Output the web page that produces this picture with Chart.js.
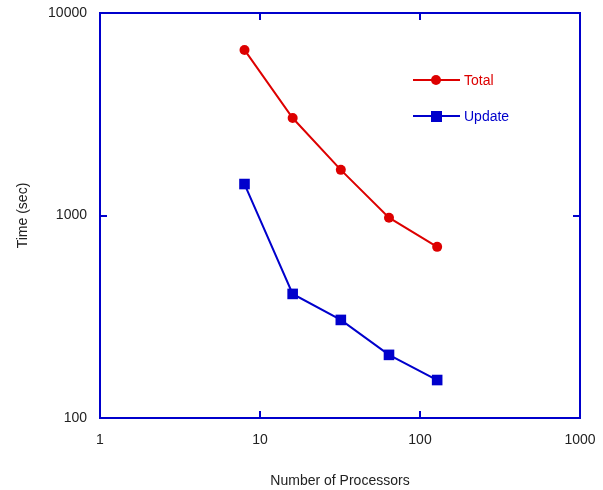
<!DOCTYPE html>
<meta charset="utf-8">
<style>
html, body { margin: 0; background: #fff; }
#wrap { width: 603px; height: 490px; position: relative; }
</style>
<body>
<div id="wrap"><canvas id="chart"></canvas></div>
<script src="https://cdn.jsdelivr.net/npm/chart.js@4/dist/chart.umd.min.js"></script>
<script>
"use strict";

var processors = [8, 16, 32, 64, 128];
var totalTime = [6570, 3030, 1680, 975, 700];
var updateTime = [1430, 410, 305, 205, 154];
var xTicks = [1, 10, 100, 1000];
var yTicks = [100, 1000, 10000];

var RED = "#dd0000", BLUE = "#0000cc";
var FONT = { family: "'Liberation Sans', Arial, sans-serif", size: 14 };

function pts(ys) {
  return processors.map(function (x, i) { return { x: x, y: ys[i] }; });
}

// box frame, inward ticks and in-plot legend
var framePlugin = {
  id: "frame",
  afterDatasetsDraw: function (chart) {
    var ctx = chart.ctx, a = chart.chartArea;
    var sx = chart.scales.x, sy = chart.scales.y;
    ctx.save();
    ctx.strokeStyle = BLUE;
    ctx.lineWidth = 2;
    ctx.strokeRect(a.left, a.top, a.right - a.left, a.bottom - a.top);
    ctx.beginPath();
    xTicks.forEach(function (v) {
      var px = Math.round(sx.getPixelForValue(v));
      ctx.moveTo(px, a.bottom); ctx.lineTo(px, a.bottom - 7);
      ctx.moveTo(px, a.top); ctx.lineTo(px, a.top + 7);
    });
    yTicks.forEach(function (v) {
      var py = Math.round(sy.getPixelForValue(v));
      ctx.moveTo(a.left, py); ctx.lineTo(a.left + 7, py);
      ctx.moveTo(a.right, py); ctx.lineTo(a.right - 7, py);
    });
    ctx.stroke();

    // legend
    ctx.font = FONT.size + "px " + FONT.family;
    ctx.textBaseline = "middle";
    chart.data.datasets.forEach(function (ds, i) {
      var y = a.top + 67 + i * 36, x0 = a.left + 313;
      ctx.strokeStyle = ds.borderColor;
      ctx.fillStyle = ds.borderColor;
      ctx.lineWidth = 2;
      ctx.beginPath();
      ctx.moveTo(x0, y); ctx.lineTo(x0 + 47, y);
      ctx.stroke();
      if (ds.pointStyle === "rect") {
        ctx.fillRect(x0 + 18, y - 5, 11, 11);
      } else {
        ctx.beginPath();
        ctx.arc(x0 + 23, y, 5, 0, Math.PI * 2);
        ctx.fill();
      }
      ctx.fillText(ds.label, x0 + 51, y + 1);
    });
    ctx.restore();
  }
};

new Chart(document.getElementById("chart"), {
  type: "line",
  data: {
    datasets: [
      {
        label: "Total",
        data: pts(totalTime),
        borderColor: RED,
        backgroundColor: RED,
        borderWidth: 2,
        pointStyle: "circle",
        pointRadius: 5,
        pointBorderWidth: 0,
        tension: 0
      },
      {
        label: "Update",
        data: pts(updateTime),
        borderColor: BLUE,
        backgroundColor: BLUE,
        borderWidth: 2,
        pointStyle: "rect",
        pointRadius: 7.5,
        pointBorderWidth: 0,
        tension: 0
      }
    ]
  },
  options: {
    responsive: true,
    maintainAspectRatio: false,
    animation: false,
    layout: { padding: { top: 13, right: 23, left: 0, bottom: 0 } },
    plugins: { legend: { display: false }, tooltip: { enabled: false } },
    scales: {
      x: {
        type: "logarithmic",
        min: 1,
        max: 1000,
        afterBuildTicks: function (s) { s.ticks = xTicks.map(function (v) { return { value: v }; }); },
        afterFit: function (s) { s.height = 72; s.paddingLeft = 0; s.paddingRight = 0; },
        grid: { display: false, drawTicks: false },
        border: { display: false },
        ticks: {
          color: "#222",
          font: FONT,
          padding: 14,
          maxRotation: 0,
          callback: function (v) { return String(v); }
        },
        title: { display: true, text: "Number of Processors", color: "#222", font: FONT, padding: { top: 4, bottom: 0 } }
      },
      y: {
        type: "logarithmic",
        min: 100,
        max: 10000,
        afterBuildTicks: function (s) { s.ticks = yTicks.map(function (v) { return { value: v }; }); },
        afterFit: function (s) { s.width = 100; s.paddingTop = 0; s.paddingBottom = 0; },
        grid: { display: false, drawTicks: false },
        border: { display: false },
        ticks: {
          color: "#222",
          font: FONT,
          padding: 13,
          callback: function (v) { return String(v); }
        },
        title: { display: true, text: "Time (sec)", color: "#222", font: FONT, padding: { top: 15, bottom: 0 } }
      }
    }
  },
  plugins: [framePlugin]
});
</script>
</body>
